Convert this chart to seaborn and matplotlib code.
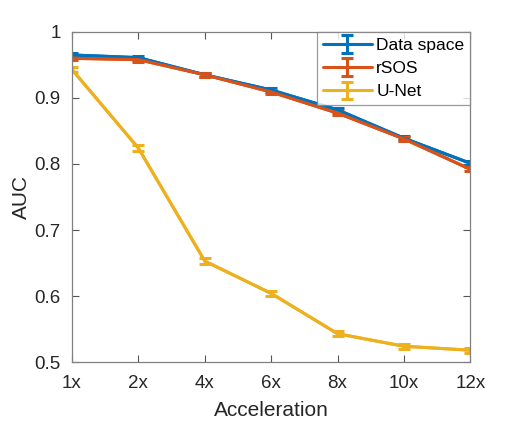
import numpy as np
import pandas as pd
import matplotlib
matplotlib.use("Agg")
import matplotlib.pyplot as plt
import seaborn as sns

categories = ["1x", "2x", "4x", "6x", "8x", "10x", "12x"]
data_space = [0.965, 0.961, 0.935, 0.912, 0.882, 0.839, 0.801]
data_space_err = [0.003, 0.003, 0.003, 0.003, 0.003, 0.003, 0.003]
rsos = [0.960, 0.958, 0.935, 0.909, 0.877, 0.838, 0.792]
rsos_err = [0.003, 0.003, 0.003, 0.003, 0.003, 0.003, 0.003]
unet = [0.943, 0.824, 0.653, 0.604, 0.543, 0.524, 0.518]
unet_err = [0.004, 0.004, 0.004, 0.004, 0.004, 0.004, 0.004]

series_names = ["Data space", "rSOS", "U-Net"]
colors = ["#0072BD", "#D95319", "#EDB120"]

sns.set_theme(style="white")
plt.rcParams['font.family'] = ['Liberation Sans', 'DejaVu Sans']

fig = plt.figure(figsize=(5.16, 4.25), dpi=100)
ax = fig.add_axes([0.1395, 0.148, 0.772, 0.777])

x = np.arange(len(categories))
handles = []
for name, vals, errs, col in zip(series_names, [data_space, rsos, unet],
                                 [data_space_err, rsos_err, unet_err], colors):
    df = pd.DataFrame({"x": x, "y": vals})
    sns.lineplot(data=df, x="x", y="y", ax=ax, color=col, linewidth=2.2, legend=False)
    h = ax.errorbar(x, vals, yerr=errs, color=col, linewidth=2.2, elinewidth=2.2,
                    capsize=4, capthick=2.2, label=name)
    handles.append(h)

ax.set_xlim(0, len(categories) - 1)
ax.set_ylim(0.5, 1.0)
ax.set_xticks(x)
ax.set_xticklabels(categories)
ax.set_yticks([0.5, 0.6, 0.7, 0.8, 0.9, 1.0])
ax.set_yticklabels(["0.5", "0.6", "0.7", "0.8", "0.9", "1"])
ax.tick_params(direction="in", length=5, width=0.8, color="#555555",
               labelsize=13.5, labelcolor="#262626", top=True, right=True,
               bottom=True, left=True)
ax.tick_params(axis="x", pad=9)
ax.tick_params(axis="y", pad=8)
for s in ax.spines.values():
    s.set_color("#808080")
    s.set_linewidth(0.9)
ax.set_xlabel("Acceleration", fontsize=15, color="#262626", labelpad=7)
ax.set_ylabel("AUC", fontsize=15, color="#262626", labelpad=3)

leg = ax.legend(handles=handles, labels=series_names, loc="upper right",
                fontsize=12.5, frameon=True, fancybox=False, borderaxespad=0,
                handlelength=2.8, handletextpad=0.25, labelspacing=0.46,
                borderpad=0.35)
leg.get_frame().set_edgecolor("#808080")
leg.get_frame().set_linewidth(0.9)
for t in leg.get_texts():
    t.set_color("#000000")

fig.savefig("out.png", dpi=100)
